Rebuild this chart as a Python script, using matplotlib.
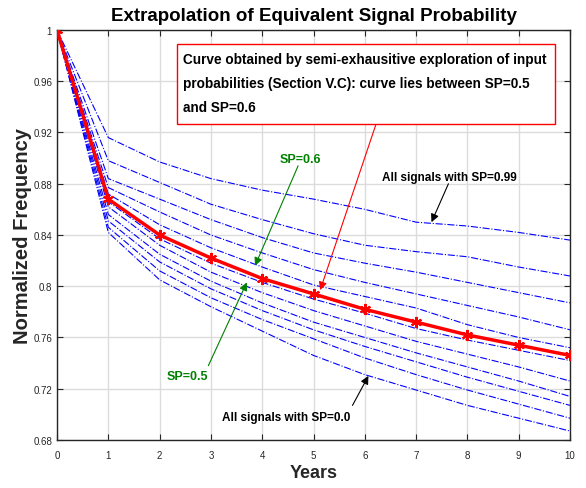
import numpy as np
from matplotlib import pyplot as plt
from matplotlib.patches import Rectangle

plt.rcParams['font.family'] = ['Liberation Sans', 'DejaVu Sans']

years = np.arange(0, 11)

# curva obtenida por exploracion semi-exhaustiva
sp_semi = [1.0, 0.868, 0.840, 0.822, 0.806, 0.794, 0.782, 0.772, 0.762, 0.754, 0.746]

# curvas para SP = 0.99, 0.9, ..., 0.0 (de arriba hacia abajo)
sp_099 = [1.0, 0.916, 0.897, 0.884, 0.875, 0.868, 0.860, 0.850, 0.847, 0.842, 0.836]
sp_09 = [1.0, 0.898, 0.881, 0.864, 0.852, 0.841, 0.832, 0.827, 0.823, 0.815, 0.808]
sp_08 = [1.0, 0.884, 0.868, 0.852, 0.838, 0.826, 0.818, 0.811, 0.803, 0.795, 0.787]
sp_07 = [1.0, 0.877, 0.858, 0.840, 0.826, 0.813, 0.803, 0.794, 0.785, 0.776, 0.766]
sp_06 = [1.0, 0.872, 0.848, 0.830, 0.815, 0.801, 0.792, 0.783, 0.770, 0.760, 0.752]
sp_05 = [1.0, 0.866, 0.837, 0.818, 0.803, 0.790, 0.779, 0.767, 0.758, 0.750, 0.742]
sp_04 = [1.0, 0.862, 0.832, 0.811, 0.795, 0.781, 0.769, 0.757, 0.747, 0.737, 0.726]
sp_03 = [1.0, 0.856, 0.825, 0.804, 0.787, 0.772, 0.760, 0.748, 0.737, 0.726, 0.714]
sp_02 = [1.0, 0.851, 0.819, 0.798, 0.781, 0.766, 0.753, 0.741, 0.729, 0.718, 0.707]
sp_01 = [1.0, 0.846, 0.812, 0.791, 0.774, 0.759, 0.744, 0.731, 0.719, 0.708, 0.697]
sp_00 = [1.0, 0.842, 0.805, 0.784, 0.765, 0.746, 0.731, 0.719, 0.707, 0.697, 0.687]

blue_curves = [sp_099, sp_09, sp_08, sp_07, sp_06, sp_05, sp_04, sp_03, sp_02, sp_01, sp_00]

yticks = [0.68, 0.72, 0.76, 0.8, 0.84, 0.88, 0.92, 0.96, 1]
ytick_labels = ['0.68', '0.72', '0.76', '0.8', '0.84', '0.88', '0.92', '0.96', '1']

box_lines = ['Curve obtained by semi-exhausitive exploration of input',
             'probabilities (Section V.C): curve lies between SP=0.5',
             'and SP=0.6']

figure, axes = plt.subplots(figsize=(5.86, 4.89), dpi=100)
figure.subplots_adjust(left=0.0973, right=0.9727, top=0.9366, bottom=0.0982)

for curve in blue_curves:
    axes.plot(years, curve, color='blue', linestyle='-.', linewidth=0.8)

axes.plot(years, sp_semi, color='red', linewidth=2.5, marker=(6, 2, 0),
          markersize=8, markeredgewidth=1.5, zorder=5)

axes.set_xlim(0, 10)
axes.set_ylim(0.68, 1)
axes.set_xticks(years)
axes.set_yticks(yticks)
axes.set_yticklabels(ytick_labels)
axes.grid(True, color='#dcdcdc', linewidth=1)
axes.set_axisbelow(True)
axes.tick_params(direction='in', top=True, right=True, labelsize=7,
                 colors='#262626', length=4)
axes.tick_params(axis='x', pad=7)
for spine in axes.spines.values():
    spine.set_color('#262626')
    spine.set_linewidth(1)

axes.set_title('Extrapolation of Equivalent Signal Probability',
               fontsize=13.5, fontweight='bold', pad=7)
axes.set_xlabel('Years', fontsize=13, fontweight='bold', color='#262626', labelpad=3)
axes.set_ylabel('Normalized Frequency', fontsize=14.5, fontweight='bold', color='#262626', labelpad=1)

# caja con la explicacion de la curva roja
axes.add_patch(Rectangle((2.34, 0.9267), 7.37, 0.0623, facecolor='white',
                         edgecolor='red', linewidth=1, zorder=6))
for i, line in enumerate(box_lines):
    axes.text(2.456, 0.9774 - i*0.01875, line, fontsize=9.8, fontweight='bold',
              va='center', ha='left', zorder=7)
axes.annotate('', xy=(5.13, 0.797), xytext=(6.22, 0.9267),
              arrowprops=dict(arrowstyle='-|>', color='red', linewidth=0.8,
                              mutation_scale=12, shrinkA=0, shrinkB=0))

axes.text(4.74, 0.899, 'SP=0.6', fontsize=9, fontweight='bold', color='green',
          ha='center', va='center')
axes.annotate('', xy=(3.86, 0.816), xytext=(4.70, 0.894),
              arrowprops=dict(arrowstyle='-|>', color='green', linewidth=0.8,
                              mutation_scale=12, shrinkA=0, shrinkB=0))
axes.text(2.55, 0.730, 'SP=0.5', fontsize=9, fontweight='bold', color='green',
          ha='center', va='center')
axes.annotate('', xy=(3.70, 0.803), xytext=(2.95, 0.738),
              arrowprops=dict(arrowstyle='-|>', color='green', linewidth=0.8,
                              mutation_scale=12, shrinkA=0, shrinkB=0))

axes.text(7.65, 0.885, 'All signals with SP=0.99', fontsize=8.5, fontweight='bold',
          ha='center', va='center')
axes.annotate('', xy=(7.30, 0.850), xytext=(7.63, 0.880),
              arrowprops=dict(arrowstyle='-|>', color='black', linewidth=0.8,
                              mutation_scale=12, shrinkA=0, shrinkB=0))
axes.text(4.47, 0.698, 'All signals with SP=0.0', fontsize=8.5, fontweight='bold',
          ha='center', va='center')
axes.annotate('', xy=(6.07, 0.730), xytext=(5.76, 0.707),
              arrowprops=dict(arrowstyle='-|>', color='black', linewidth=0.8,
                              mutation_scale=12, shrinkA=0, shrinkB=0))

plt.savefig('out.png', dpi=100)
